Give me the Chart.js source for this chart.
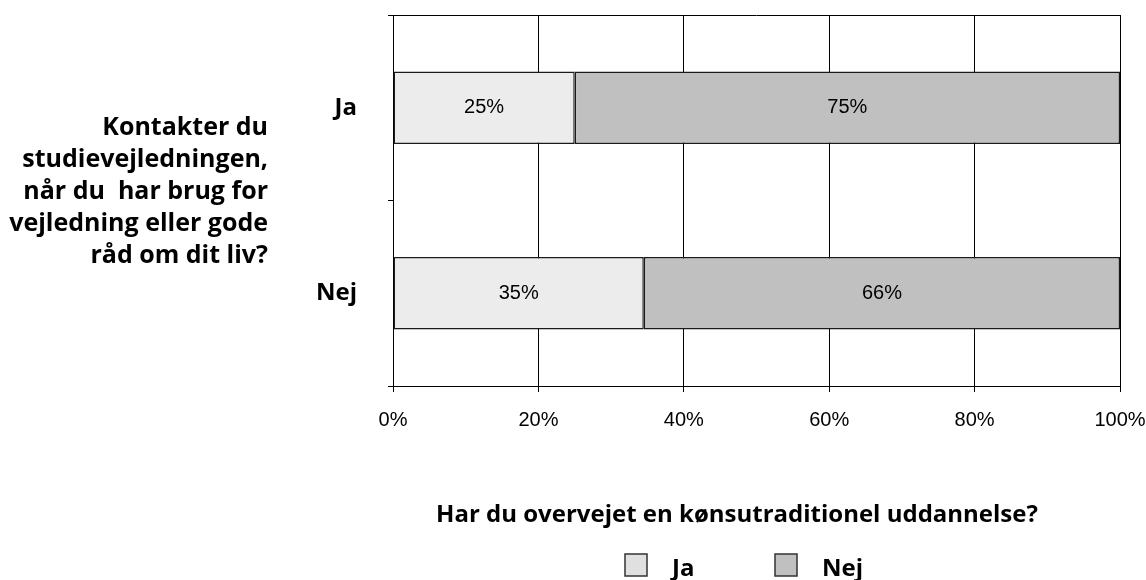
<!DOCTYPE html>
<html>
<head>
<meta charset="utf-8">
<script src="https://cdn.jsdelivr.net/npm/chart.js@4.4.1/dist/chart.umd.min.js"></script>
<style>
  html, body { margin: 0; padding: 0; background: #fff; }
  #wrap { width: 1146px; height: 580px; }
</style>
</head>
<body>
<div id="wrap"><canvas id="chart" width="1146" height="580"></canvas></div>
<script>
// 데이터
const categories = ['Ja', 'Nej'];
const seriesNames = ['Ja', 'Nej'];
const jaValues = [25, 34.5];
const nejValues = [75, 65.5];
const questionLines = ['Kontakter du', 'studievejledningen,', 'når du  har brug for', 'vejledning eller gode', 'råd om dit liv?'];
const legendTitle = 'Har du overvejet en kønsutraditionel uddannelse?';

// 스타일
const barColors = ['#ececec', '#c0c0c0'];
const legendColors = ['#e0e0e0', '#c0c0c0'];
const numFamily = '"Liberation Sans", Arial, sans-serif';

// 위쪽 테두리
const framePlugin = {
  id: 'frame',
  beforeDatasetsDraw(chart) {
    const { ctx, chartArea: a } = chart;
    ctx.save();
    ctx.strokeStyle = '#000';
    ctx.lineWidth = 1;
    ctx.beginPath();
    ctx.moveTo(a.left, a.top + 0.5);
    ctx.lineTo(a.right, a.top + 0.5);
    ctx.stroke();
    ctx.restore();
  }
};

// 막대 안 퍼센트 라벨
const barLabelPlugin = {
  id: 'barLabels',
  afterDatasetsDraw(chart) {
    const { ctx } = chart;
    ctx.save();
    ctx.font = '20px ' + numFamily;
    ctx.fillStyle = '#000';
    ctx.textAlign = 'center';
    ctx.textBaseline = 'middle';
    chart.data.datasets.forEach((ds, i) => {
      chart.getDatasetMeta(i).data.forEach((bar, j) => {
        const { x, y, base } = bar.getProps(['x', 'y', 'base'], true);
        ctx.fillText(Math.round(ds.data[j]) + '%', (x + base) / 2, y);
      });
    });
    ctx.restore();
  }
};

// 왼쪽 질문 텍스트
const questionPlugin = {
  id: 'question',
  afterDraw(chart) {
    const { ctx } = chart;
    ctx.save();
    ctx.font = 'bold 25px "Open Sans"';
    ctx.fillStyle = '#000';
    ctx.textAlign = 'right';
    ctx.textBaseline = 'alphabetic';
    questionLines.forEach((line, i) => ctx.fillText(line, 268, 135 + i * 32));
    ctx.restore();
  }
};

// 범례 (제목 + 항목)
const legendPlugin = {
  id: 'customLegend',
  afterDraw(chart) {
    const { ctx } = chart;
    ctx.save();
    ctx.font = 'bold 24px "Open Sans"';
    ctx.fillStyle = '#000';
    ctx.textBaseline = 'alphabetic';
    ctx.textAlign = 'center';
    ctx.fillText(legendTitle, 737, 522);
    ctx.textAlign = 'left';
    chart.data.datasets.forEach((ds, i) => {
      const bx = 625 + i * 150;
      ctx.fillStyle = legendColors[i];
      ctx.fillRect(bx, 554, 22, 22);
      ctx.strokeStyle = '#333';
      ctx.lineWidth = 1.5;
      ctx.strokeRect(bx, 554, 22, 22);
      ctx.fillStyle = '#000';
      ctx.fillText(ds.label, bx + 47, 576);
    });
    ctx.restore();
  }
};

const ctx = document.getElementById('chart').getContext('2d');
new Chart(ctx, {
  type: 'bar',
  data: {
    labels: categories,
    datasets: [
      { label: seriesNames[0], data: jaValues, backgroundColor: barColors[0] },
      { label: seriesNames[1], data: nejValues, backgroundColor: barColors[1] }
    ].map(d => Object.assign(d, {
      borderColor: '#1a1a1a',
      borderWidth: 1.5,
      borderSkipped: false,
      categoryPercentage: 1,
      barPercentage: 0.39
    }))
  },
  options: {
    indexAxis: 'y',
    responsive: false,
    animation: false,
    layout: { padding: { top: 15, right: 26, left: 0, bottom: 0 } },
    scales: {
      x: {
        stacked: true,
        min: 0,
        max: 100,
        ticks: {
          stepSize: 20,
          callback: v => v + '%',
          color: '#000',
          padding: 16,
          font: { family: numFamily, size: 20 }
        },
        grid: { color: '#000', lineWidth: 1, tickLength: 6 },
        border: { color: '#000', width: 1 },
        afterFit: s => { s.height = 194; s.paddingLeft = 0; s.paddingRight = 0; }
      },
      y: {
        stacked: true,
        offset: true,
        ticks: {
          color: '#000',
          padding: 31,
          font: { family: 'Open Sans', weight: 'bold', size: 24 }
        },
        grid: { offset: true, drawOnChartArea: false, tickLength: 5, color: '#000' },
        border: { color: '#000', width: 1 },
        afterFit: s => { s.width = 393; s.paddingTop = 0; s.paddingBottom = 0; }
      }
    },
    plugins: {
      legend: { display: false },
      tooltip: { enabled: false }
    }
  },
  plugins: [framePlugin, barLabelPlugin, questionPlugin, legendPlugin]
});
</script>
</body>
</html>
